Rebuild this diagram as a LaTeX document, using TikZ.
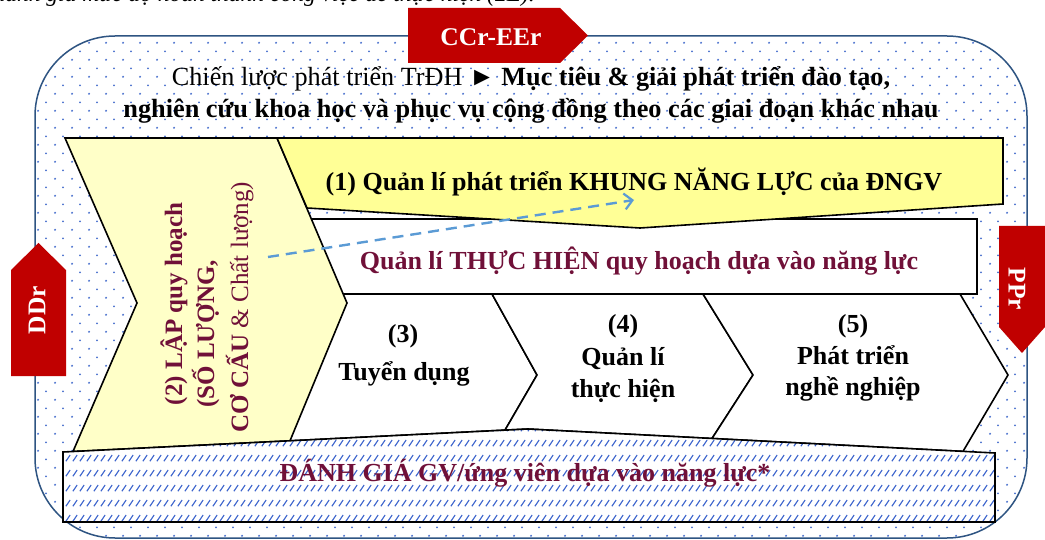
\documentclass[tikz,border=0pt]{standalone}
\usepackage{fontspec}
\setmainfont{Liberation Serif}
\usetikzlibrary{patterns,arrows.meta}
\definecolor{redbox}{RGB}{192,0,0}
\definecolor{maroontxt}{RGB}{112,16,56}
\definecolor{framecol}{RGB}{46,84,130}
\definecolor{dotcol}{RGB}{70,110,205}
\definecolor{hatchcol}{RGB}{60,100,205}
\definecolor{paleyellow}{RGB}{255,255,200}
\definecolor{banneryellow}{RGB}{255,255,150}
\definecolor{arrowblue}{RGB}{91,155,213}
\pgfdeclarepatternformonly{bluedots}{\pgfqpoint{0pt}{0pt}}{\pgfqpoint{17pt}{17.4pt}}{\pgfqpoint{17pt}{17.4pt}}{%
  \pgfpathcircle{\pgfqpoint{4.25pt}{4.35pt}}{1.1pt}%
  \pgfpathcircle{\pgfqpoint{12.75pt}{13.05pt}}{1.1pt}%
  \pgfusepath{fill}}
\pgfdeclarepatternformonly{bluehatch}{\pgfqpoint{0pt}{0pt}}{\pgfqpoint{6.5pt}{15pt}}{\pgfqpoint{6.5pt}{15pt}}{%
  \pgfsetlinewidth{1.2pt}%
  \pgfpathmoveto{\pgfqpoint{1pt}{4pt}}\pgfpathlineto{\pgfqpoint{5.5pt}{10.5pt}}%
  \pgfusepath{stroke}}
\begin{document}
\begin{tikzpicture}[x=1pt,y=-1pt,line join=miter,
  shp/.style={draw=black,line width=1.6pt},
  redtip/.style={fill=redbox,draw=none},
  redlbl/.style={font=\fontsize{25.5}{30}\selectfont\bfseries,text=white,inner sep=0pt},
  lbl/.style={font=\fontsize{26}{31}\selectfont\bfseries,inner sep=0pt,anchor=base},
  clbl/.style={font=\fontsize{26}{31}\selectfont\bfseries,inner sep=0pt,anchor=base},
  vlbl/.style={font=\fontsize{25}{30}\selectfont,text=maroontxt,inner sep=0pt,anchor=base,rotate=90},
  intro/.style={font=\fontsize{26.2}{30}\selectfont,inner sep=0pt,anchor=base}]
\useasboundingbox (0,0) rectangle (1045,540);
\fill[white] (0,0) rectangle (1045,540);
% cut-off text at top
\node[anchor=base east,font=\fontsize{23.5}{26}\selectfont\itshape,inner sep=0pt] (toptext) at (535,2) {đánh giá mức độ hoàn thành công việc để thực hiện (2E).};
% outer frame
\draw[framecol,line width=1.5pt,pattern=bluedots,pattern color=dotcol,rounded corners=80pt] (35,36) rectangle (1027,538);
% red tags
\fill[redtip] (408,8) -- (560,8) -- (588,35.5) -- (560,63) -- (408,63) -- cycle;
\node[redlbl] (ccr) at (491,37) {CCr-EEr};
\fill[redtip] (11,376) -- (11,270) -- (38.5,243) -- (66,270) -- (66,376) -- cycle;
\node[redlbl,rotate=90] (ddr) at (37,310) {DDr};
\fill[redtip] (999,226) -- (1045,226) -- (1045,327) -- (1022,353) -- (999,327) -- cycle;
\node[redlbl,rotate=-90] (ppr) at (1017,289) {PPr};
% intro text
\node[intro] (intro1) at (531,86) {Chiến lược phát triển TrĐH ► \textbf{Mục tiêu \& giải phát triển đào tạo,}};
\node[intro,font=\fontsize{26.3}{30}\selectfont\bfseries] (intro2) at (531,118) {nghiên cứu khoa học và phục vụ cộng đồng theo các giai đoạn khác nhau};
% white bar
\draw[shp,fill=white] (300,219) rectangle (977,294);
% chevrons 3-5
\draw[shp,fill=white] (300,294) -- (492,294) -- (537,375) -- (505,430.1) -- (290,440.8) -- cycle;
\draw[shp,fill=white] (492,294) -- (703,294) -- (753,375) -- (712,438.5) -- (528,429) -- (505,430.1) -- (537,375) -- cycle;
\draw[shp,fill=white] (703,294) -- (960,294) -- (1008,375) -- (963,451.4) -- (712,438.5) -- (753,375) -- cycle;
% yellow chevron (2)
\draw[shp,fill=paleyellow] (65,138) -- (277,138) -- (347,303) -- (290,440.8) -- (73,451.5) -- (137,303) -- cycle;
% banner (1)
\draw[shp,fill=banneryellow] (277,138) -- (1003,138) -- (1003,204) -- (640,228) -- (307,208) -- cycle;
% hatched evaluation box
\fill[white] (63,452) -- (528,429) -- (995,453) -- (995,522) -- (63,522) -- cycle;
\fill[pattern=bluehatch,pattern color=hatchcol] (63,452) -- (528,429) -- (995,453) -- (995,522) -- (63,522) -- cycle;
\draw[shp] (63,452) -- (528,429) -- (995,453) -- (995,522) -- (63,522) -- cycle;
% labels
\node[lbl] (t1) at (634,191) {(1) Quản lí phát triển KHUNG NĂNG LỰC của ĐNGV};
\node[lbl,text=maroontxt] (tbar) at (639,270) {Quản lí THỰC HIỆN quy hoạch dựa vào năng lực};
\node[vlbl,font=\fontsize{25}{30}\selectfont\bfseries] (t2a) at (182,304) {(2) LẬP quy hoạch};
\node[vlbl,font=\fontsize{25}{30}\selectfont\bfseries] (t2b) at (214,334) {(SỐ LƯỢNG,};
\node[vlbl] (t2c) at (248,307) {\textbf{CƠ CẤU} \& Chất lượng)};
\node[clbl] (t3a) at (403,342) {(3)};
\node[clbl] (t3b) at (404,380) {Tuyển dụng};
\node[clbl] (t4a) at (623,333) {(4)};
\node[clbl] (t4b) at (623,365) {Quản lí};
\node[clbl] (t4c) at (623,397) {thực hiện};
\node[clbl] (t5a) at (853,333) {(5)};
\node[clbl] (t5b) at (853,364) {Phát triển};
\node[clbl] (t5c) at (853,395) {nghề nghiệp};
\node[lbl,text=maroontxt] (t6) at (525,481) {ĐÁNH GIÁ GV/ứng viên dựa vào năng lực*};
% dashed arrow
\coordinate (arrs) at (268,257);
\coordinate (arre) at (634,200);
\draw[arrowblue,line width=2.4pt,dash pattern=on 11pt off 7pt,-{Straight Barb[length=8pt,width=16pt,line width=2.2pt]}] (arrs) -- (arre);
\end{tikzpicture}
\end{document}
